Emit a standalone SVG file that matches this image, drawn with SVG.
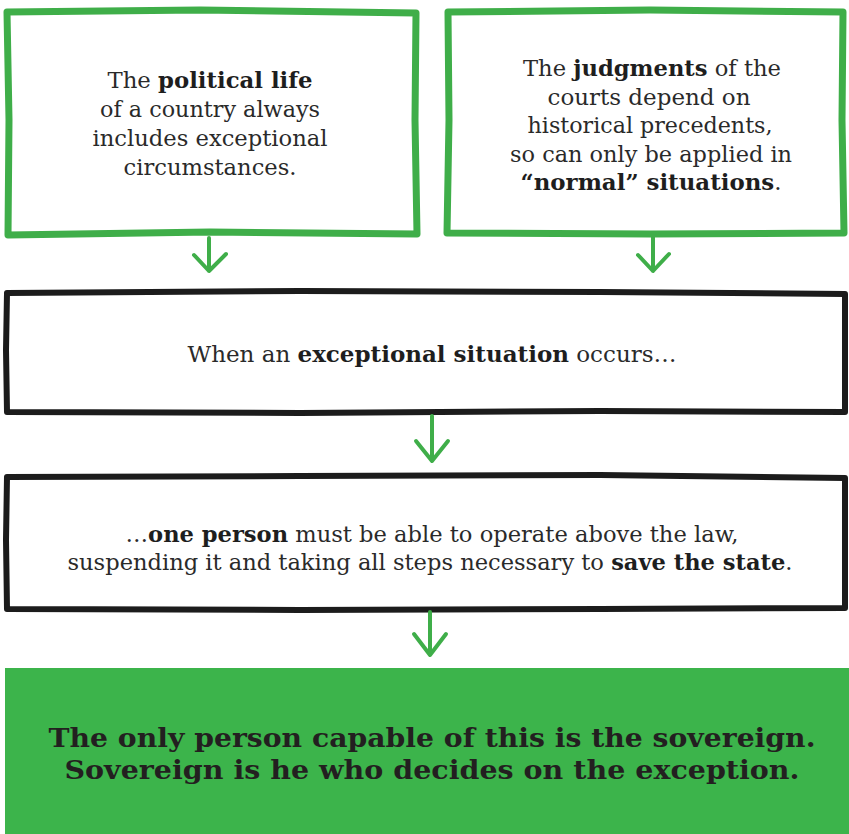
<svg xmlns="http://www.w3.org/2000/svg" width="849" height="834" viewBox="0 0 849 834">
<style>
.gbox{fill:#ffffff;stroke:#3fae49;stroke-width:7;stroke-linejoin:round}
.kbox{fill:#ffffff;stroke:#1c1c1c;stroke-width:6;stroke-linejoin:round}
.t{font-family:"DejaVu Serif","Liberation Serif",serif;font-size:22.5px;fill:#2a2a2a;text-anchor:middle}
.b{font-weight:bold;fill:#1e1e1e}
.big{font-family:"DejaVu Serif","Liberation Serif",serif;font-size:26px;font-weight:bold;fill:#231f20;text-anchor:middle}
.arr{fill:none;stroke:#3fae49;stroke-width:4;stroke-linecap:round;stroke-linejoin:round}
</style>
<rect x="0" y="0" width="849" height="834" fill="#ffffff"/>
<g id="node-political">
<path class="gbox" d="M7,12 L200,10 L416,13 L415,120 L417,234 L210,232 L8,235 L9,120 Z"/>
<text class="t" x="210" y="88" textLength="205" lengthAdjust="spacingAndGlyphs">The <tspan class="b">political life</tspan></text>
<text class="t" x="210" y="117" textLength="220" lengthAdjust="spacingAndGlyphs">of a country always</text>
<text class="t" x="210" y="146" textLength="235" lengthAdjust="spacingAndGlyphs">includes exceptional</text>
<text class="t" x="210" y="175" textLength="173" lengthAdjust="spacingAndGlyphs">circumstances.</text>
</g>
<g id="node-judgments">
<path class="gbox" d="M448,12 L650,10 L843,12 L842,120 L844,233 L650,234 L447,233 L449,120 Z"/>
<text class="t" x="652" y="76" textLength="258" lengthAdjust="spacingAndGlyphs">The <tspan class="b">judgments</tspan> of the</text>
<text class="t" x="649" y="105" textLength="203" lengthAdjust="spacingAndGlyphs">courts depend on</text>
<text class="t" x="650" y="133" textLength="245" lengthAdjust="spacingAndGlyphs">historical precedents,</text>
<text class="t" x="651" y="162" textLength="282" lengthAdjust="spacingAndGlyphs">so can only be applied in</text>
<text class="t" x="651" y="190" textLength="261" lengthAdjust="spacingAndGlyphs"><tspan class="b">“normal” situations</tspan>.</text>
</g>
<g id="node-exceptional">
<path class="kbox" d="M7,293 L300,291 L600,292 L845,294 L845,412 L600,411 L300,413 L7,412 L6,350 Z"/>
<text class="t" x="432" y="362" textLength="489" lengthAdjust="spacingAndGlyphs">When an <tspan class="b">exceptional situation</tspan> occurs…</text>
</g>
<g id="node-oneperson">
<path class="kbox" d="M7,477 L300,476 L600,475 L845,478 L845,608 L600,609 L300,610 L7,609 L6,540 Z"/>
<text class="t" x="432" y="542" textLength="613" lengthAdjust="spacingAndGlyphs">…<tspan class="b">one person</tspan> must be able to operate above the law,</text>
<text class="t" x="430" y="570" textLength="725" lengthAdjust="spacingAndGlyphs">suspending it and taking all steps necessary to <tspan class="b">save the state</tspan>.</text>
</g>
<g id="node-sovereign">
<rect x="5" y="668" width="844" height="166" fill="#3cb44b"/>
<text class="big" x="432" y="747" textLength="767" lengthAdjust="spacingAndGlyphs">The only person capable of this is the sovereign.</text>
<text class="big" x="432" y="779" textLength="735" lengthAdjust="spacingAndGlyphs">Sovereign is he who decides on the exception.</text>
</g>
<g id="connectors">
<path class="arr" d="M209,238 L209,271 M194,255 L209,271 L226,254"/>
<path class="arr" d="M653,236 L653,271 M638,255 L653,271 L669,254"/>
<path class="arr" d="M432,416 L432,461 M416,441 L432,461 L448,441"/>
<path class="arr" d="M430,612 L430,655 M414,634 L430,655 L446,634"/>
</g>
</svg>
